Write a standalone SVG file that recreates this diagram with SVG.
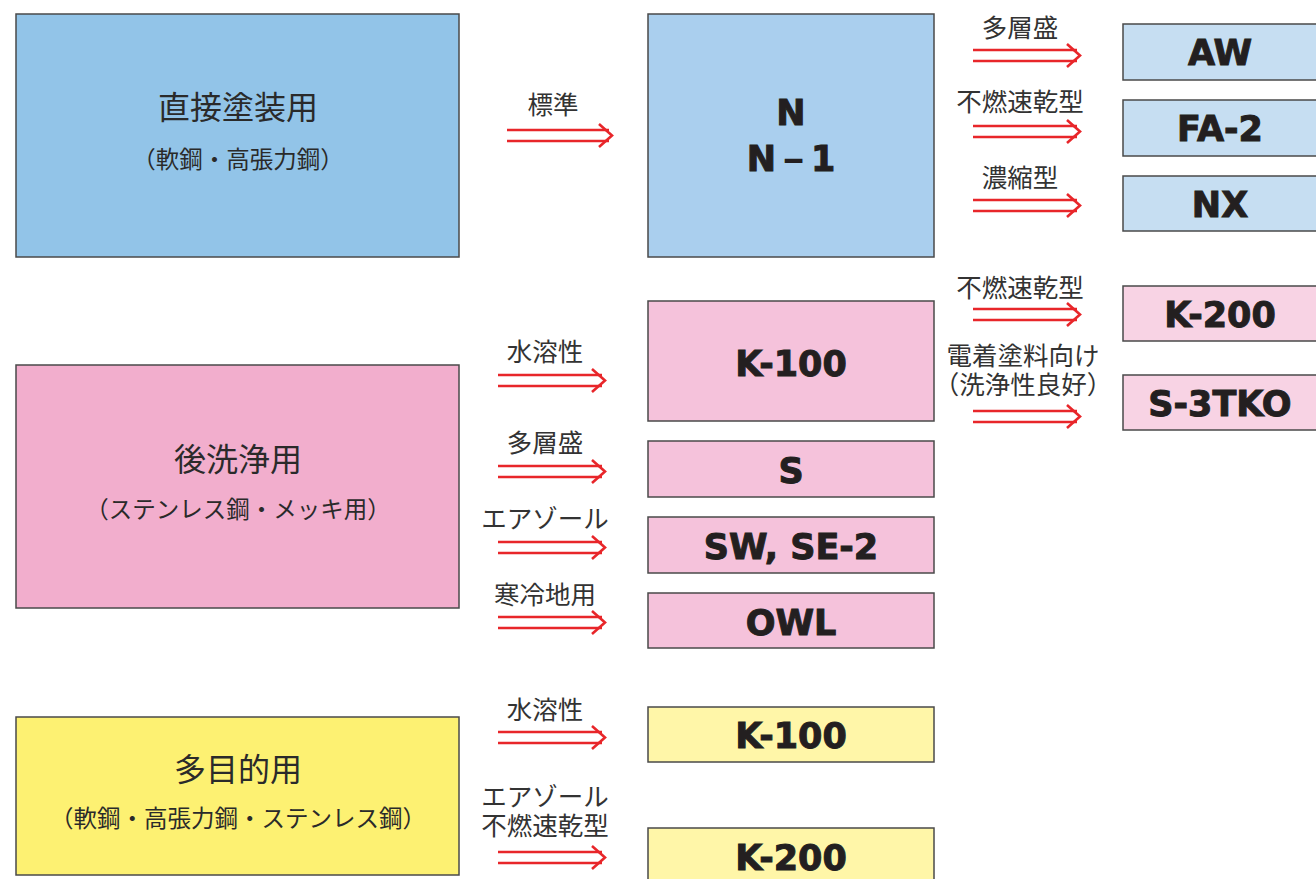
<svg xmlns="http://www.w3.org/2000/svg" width="1316" height="879" viewBox="0 0 1316 879">
<defs>
<style>
.box{stroke:#4a4a4a;stroke-width:1.5}
.blue{fill:#92c4e8}.blue2{fill:#aacfee}.blue3{fill:#c6def2}
.pink{fill:#f2aecd}.pink2{fill:#f5c2db}.pink3{fill:#f8d3e4}
.yel{fill:#fdf172}.yel2{fill:#fff6a8}
.ttl{font-family:"Noto Sans CJK JP","Noto Sans",sans-serif;font-size:32px;fill:#2a2a2a;text-anchor:middle}
.sub{font-family:"Noto Sans CJK JP","Noto Sans",sans-serif;font-size:23.5px;fill:#2a2a2a;text-anchor:middle}
.lbl{font-family:"Noto Sans CJK JP","Noto Sans",sans-serif;font-size:25.5px;fill:#333;text-anchor:middle}
.prd{font-family:"DejaVu Sans",sans-serif;font-weight:bold;font-size:35px;fill:#231f20;stroke:#231f20;stroke-width:1;text-anchor:middle}
.arr line,.arr polyline{stroke:#e8262a;stroke-width:2.6;fill:none}
</style>
</defs>
<rect width="1316" height="879" fill="#fff"/>

<g id="cat-direct">
<rect class="box blue" x="16" y="14" width="443" height="243"/>
<text class="ttl" x="238" y="119">直接塗装用</text>
<text class="sub" x="238" y="168">（軟鋼・高張力鋼）</text>
</g>
<g id="cat-post">
<rect class="box pink" x="16" y="365" width="443" height="243"/>
<text class="ttl" x="238" y="471">後洗浄用</text>
<text class="sub" x="238" y="518">（ステンレス鋼・メッキ用）</text>
</g>
<g id="cat-multi">
<rect class="box yel" x="16" y="717" width="443" height="158"/>
<text class="ttl" x="238" y="781">多目的用</text>
<text class="sub" x="238" y="827">（軟鋼・高張力鋼・ステンレス鋼）</text>
</g>

<g id="p-N">
<rect class="box blue2" x="648" y="14" width="286" height="243"/>
<text class="prd" x="791" y="125">N</text>
<text class="prd" x="791" y="171">N－1</text>
</g>
<g id="p-K100a">
<rect class="box pink2" x="648" y="301" width="286" height="120"/>
<text class="prd" x="791" y="376">K-100</text>
</g>
<g id="p-S">
<rect class="box pink2" x="648" y="441" width="286" height="56"/>
<text class="prd" x="791" y="483">S</text>
</g>
<g id="p-SW">
<rect class="box pink2" x="648" y="517" width="286" height="56"/>
<text class="prd" x="791" y="559">SW, SE-2</text>
</g>
<g id="p-OWL">
<rect class="box pink2" x="648" y="593" width="286" height="55"/>
<text class="prd" x="791" y="635">OWL</text>
</g>
<g id="p-K100b">
<rect class="box yel2" x="648" y="707" width="286" height="55"/>
<text class="prd" x="791" y="748">K-100</text>
</g>
<g id="p-K200b">
<rect class="box yel2" x="648" y="828" width="286" height="60"/>
<text class="prd" x="791" y="870">K-200</text>
</g>

<g id="p-AW">
<rect class="box blue3" x="1123" y="24" width="200" height="56"/>
<text class="prd" x="1220" y="65">AW</text>
</g>
<g id="p-FA2">
<rect class="box blue3" x="1123" y="100" width="200" height="56"/>
<text class="prd" x="1220" y="141">FA-2</text>
</g>
<g id="p-NX">
<rect class="box blue3" x="1123" y="176" width="200" height="55"/>
<text class="prd" x="1220" y="217">NX</text>
</g>
<g id="p-K200a">
<rect class="box pink3" x="1123" y="286" width="200" height="55"/>
<text class="prd" x="1220" y="327">K-200</text>
</g>
<g id="p-S3TKO">
<rect class="box pink3" x="1123" y="375" width="200" height="55"/>
<text class="prd" x="1220" y="416">S-3TKO</text>
</g>

<g id="connectors">
<g class="arr">
<line x1="507" y1="130" x2="609" y2="130"/><line x1="507" y1="141" x2="609" y2="141"/><polyline points="599,124 612,135.5 599,147"/>
<line x1="973" y1="50" x2="1077" y2="50"/><line x1="973" y1="61" x2="1077" y2="61"/><polyline points="1067,44 1080,55.5 1067,67"/>
<line x1="973" y1="126" x2="1077" y2="126"/><line x1="973" y1="137" x2="1077" y2="137"/><polyline points="1067,120 1080,131.5 1067,143"/>
<line x1="973" y1="200" x2="1077" y2="200"/><line x1="973" y1="211" x2="1077" y2="211"/><polyline points="1067,194 1080,205.5 1067,217"/>
<line x1="973" y1="309" x2="1077" y2="309"/><line x1="973" y1="320" x2="1077" y2="320"/><polyline points="1067,303 1080,314.5 1067,326"/>
<line x1="973" y1="411" x2="1077" y2="411"/><line x1="973" y1="422" x2="1077" y2="422"/><polyline points="1067,405 1080,416.5 1067,428"/>
<line x1="498" y1="375" x2="602" y2="375"/><line x1="498" y1="386" x2="602" y2="386"/><polyline points="592,369 605,380.5 592,392"/>
<line x1="498" y1="466" x2="602" y2="466"/><line x1="498" y1="477" x2="602" y2="477"/><polyline points="592,460 605,471.5 592,483"/>
<line x1="498" y1="542" x2="602" y2="542"/><line x1="498" y1="553" x2="602" y2="553"/><polyline points="592,536 605,547.5 592,559"/>
<line x1="498" y1="617" x2="602" y2="617"/><line x1="498" y1="628" x2="602" y2="628"/><polyline points="592,611 605,622.5 592,634"/>
<line x1="498" y1="732" x2="602" y2="732"/><line x1="498" y1="743" x2="602" y2="743"/><polyline points="592,726 605,737.5 592,749"/>
<line x1="498" y1="852" x2="602" y2="852"/><line x1="498" y1="863" x2="602" y2="863"/><polyline points="592,846 605,857.5 592,869"/>
</g>
<g id="labels">
<text class="lbl" x="553" y="114">標準</text>
<text class="lbl" x="1020" y="37">多層盛</text>
<text class="lbl" x="1020" y="111">不燃速乾型</text>
<text class="lbl" x="1020" y="187">濃縮型</text>
<text class="lbl" x="1020" y="297">不燃速乾型</text>
<text class="lbl" x="1023" y="365">電着塗料向け</text>
<text class="lbl" x="1023" y="394">（洗浄性良好）</text>
<text class="lbl" x="545" y="361">水溶性</text>
<text class="lbl" x="545" y="452">多層盛</text>
<text class="lbl" x="545" y="528">エアゾール</text>
<text class="lbl" x="545" y="604">寒冷地用</text>
<text class="lbl" x="545" y="719">水溶性</text>
<text class="lbl" x="545" y="806">エアゾール</text>
<text class="lbl" x="545" y="835">不燃速乾型</text>
</g>
</g>
</svg>
